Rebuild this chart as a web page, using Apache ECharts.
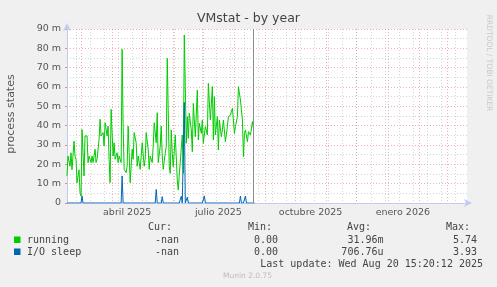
<!DOCTYPE html>
<html><head><meta charset="utf-8">
<script src="https://cdn.jsdelivr.net/npm/echarts@6/dist/echarts.min.js"></script>
<style>html,body{margin:0;padding:0;background:#f0f0f0}#c{width:497px;height:287px}</style>
</head><body><div id="c"></div>
<script>
const chartTitle = 'VMstat - by year';
const yAxisName = 'process states';
const startYear = 2025, startMonth = 1, startDayOfMonth = 15; // 15 Feb 2025
const dayCount = 400;
const yMax = 90, yStep = 10;
const monthNames = ['enero','febrero','marzo','abril','mayo','junio','julio','agosto','septiembre','octubre','noviembre','diciembre'];
const labelMonths = [0, 3, 6, 9];
const minorGridFirstDay = 9, minorGridStep = 14;

// running (values in milli-units), day offsets from start
const runningDay = [0,1,3,4,5,7,8,9,10,12,13,14,15,16,17,18,20,21,22,24,25,26,28,29,30,32,33,34,36,37,38,40,41,42,43,44,46,47,48,50,51,52,54,55,56,57,59,60,61,62,63,65,66,67,69,70,71,73,74,75,77,78,79,81,82,83,85,86,87,89,90,91,93,94,95,96,98,99,100,102,103,104,105,106,108,110,111,112,113,115,116,117,118,119,120,121,122,124,125,126,128,130,131,132,134,135,136,138,140,141,143,145,146,147,148,150,151,152,154,155,156,158,160,161,163,165,166,167,168,170,171,173,175,176,177,178,180,181,183,185,186,187];
const runningVal = [14,24.3,19,26,17.2,32,24.3,22.6,10.5,17.2,5.3,3.6,38,25.9,14,34.7,34.7,20.9,24.3,20.9,24.3,20.9,27.8,20.9,22.6,33,43.3,34.7,36.4,29.5,41.5,34.7,39.8,22.6,10.5,48.4,24.3,31.2,22.6,26,20.9,24.3,20.9,79.5,39.8,17.4,15.7,19,39.8,26,10.5,27.8,22.6,36.4,31.2,19,24.3,17.4,24.3,31.2,19,22.6,36.4,27.8,17.4,24.3,20.9,29.5,41.5,31.2,46.7,20.9,29.5,39.8,24.3,17.4,25.7,29.1,74.8,18.8,15.3,37.8,25.7,18.8,35.2,11.9,6.7,14.5,15.3,35.2,15.3,86.9,60.2,30.9,44.7,33.4,46.4,37.8,26.5,51.5,34.3,58.4,32.6,41.2,36,42.9,30.9,39.5,35.2,61.9,42.9,60.2,32.6,55,35.2,44.7,27.4,42.9,34.3,37.8,42.9,31.7,39.5,44.7,45.5,49,42.9,36,39.5,44.7,60.2,53.3,42.9,24,36,37.8,31.7,36.9,35.2,42.1,38.6];

// I/O sleep: zero except these spikes
const ioSpikeDay = [15,55,89,95,114,117,120,137,173,178];
const ioSpikeVal = [3.7,14,7,3.3,3.5,52,3,3.7,3.6,3.6];
const dataEndDay = 187;
const nowDay = 186;

const seriesNames = ['running','I/O sleep'];
const seriesColors = ['#00cc00','#0066b3'];
const curVals = ['-nan','-nan'];
const minVals = ['0.00','0.00'];
const avgVals = ['31.96m','706.76u'];
const maxVals = ['5.74','3.93'];
const colHeads = ['Cur:','Min:','Avg:','Max:'];
const lastUpdate = 'Last update: Wed Aug 20 15:20:12 2025';
const footer = 'Munin 2.0.75';
const sideText = 'RRDTOOL / TOBI OETIKER';

const cats = [];
const t0 = Date.UTC(startYear, startMonth, startDayOfMonth);
for (let i = 0; i < dayCount; i++) cats.push(new Date(t0 + i * 86400000).toISOString().slice(0, 10));
const isMonthStart = i => cats[i].slice(8) === '01';
const isMinor = i => i >= minorGridFirstDay && (i - minorGridFirstDay) % minorGridStep === 0;
const isLabel = i => cats[i].slice(8) === '16' && labelMonths.includes(+cats[i].slice(5, 7) - 1);

const runningData = runningDay.map((d, i) => [d, runningVal[i]]);
const ioData = [];
for (let d = 0; d <= dataEndDay; d++) {
  const k = ioSpikeDay.indexOf(d);
  ioData.push([d, k >= 0 ? ioSpikeVal[k] : 0]);
}

const mono = 'DejaVu Sans Mono';
const graphics = [
  {type:'text', x:248.5, y:19, style:{text:chartTitle, font:'12.5px "DejaVu Sans"', fill:'#444', align:'center', verticalAlign:'middle'}},
  {type:'text', x:11, y:114, rotation:Math.PI/2, style:{text:yAxisName, font:'11px "DejaVu Sans"', fill:'#555', align:'center', verticalAlign:'middle'}},
  {type:'text', x:489, y:63, rotation:-Math.PI/2, style:{text:sideText, font:'7.5px "DejaVu Sans"', fill:'#c8c8c8', align:'center', verticalAlign:'middle'}},
  {type:'text', x:247.5, y:276, style:{text:footer, font:'7.5px "DejaVu Sans"', fill:'#bbb', align:'center', verticalAlign:'middle'}},
  {type:'text', x:483, y:264, style:{text:lastUpdate, font:'10px "'+mono+'"', fill:'#444', align:'right', verticalAlign:'middle'}}
];
const colRight = [172, 272, 371, 470];
const valRight = [179, 278, 383.5, 477];
colHeads.forEach((h, i) => graphics.push({type:'text', x:colRight[i], y:227.5, style:{text:h, font:'10px "'+mono+'"', fill:'#444', align:'right', verticalAlign:'middle'}}));
seriesNames.forEach((n, r) => {
  const y = 240 + r * 12;
  graphics.push({type:'rect', shape:{x:14, y:y-3.5, width:6.5, height:6.5}, style:{fill:seriesColors[r]}});
  graphics.push({type:'text', x:27, y:y, style:{text:n, font:'10px "'+mono+'"', fill:'#444', align:'left', verticalAlign:'middle'}});
  [curVals[r], minVals[r], avgVals[r], maxVals[r]].forEach((v, i) =>
    graphics.push({type:'text', x:valRight[i], y:y, style:{text:v, font:'10px "'+mono+'"', fill:'#444', align:'right', verticalAlign:'middle'}}));
});

const axisCol = '#c4caf0';
const chart = echarts.init(document.getElementById('c'), null, {renderer:'canvas'});
chart.setOption({
  animation:false,
  backgroundColor:'#f0f0f0',
  grid:{left:67, right:30, top:29, bottom:84, show:true, backgroundColor:'#ffffff', borderWidth:0},
  xAxis:[{
    type:'category', data:cats, boundaryGap:false,
    axisLine:{show:true, lineStyle:{color:axisCol, width:1}, symbol:['none','arrow'], symbolSize:[6,8], symbolOffset:[0,5]},
    axisTick:{show:false},
    axisLabel:{interval:(i)=>isLabel(i), formatter:(v)=>monthNames[+v.slice(5,7)-1]+' '+v.slice(0,4), color:'#555', fontSize:9.5, fontFamily:'DejaVu Sans', margin:5},
    splitLine:{show:true, interval:(i)=>isMonthStart(i), lineStyle:{color:'rgba(230,100,100,0.5)', type:[1,2], width:1}}
  },{
    type:'category', data:cats, boundaryGap:false, position:'bottom',
    axisLine:{show:false}, axisTick:{show:false}, axisLabel:{show:false},
    splitLine:{show:true, interval:(i)=>isMinor(i), lineStyle:{color:'rgba(150,150,150,0.4)', type:[1,2], width:1}}
  }],
  yAxis:{
    type:'value', min:0, max:yMax, interval:yStep,
    axisLine:{show:true, lineStyle:{color:axisCol, width:1}, symbol:['none','arrow'], symbolSize:[6,8], symbolOffset:[0,6]},
    axisTick:{show:true, length:2, lineStyle:{color:'rgba(230,90,90,0.7)'}},
    axisLabel:{formatter:(v)=>v===0?'0':v+' m', color:'#555', fontSize:9.5, fontFamily:'DejaVu Sans', margin:6},
    splitLine:{show:true, lineStyle:{color:'rgba(230,100,100,0.5)', type:[1,2], width:1}},
    minorTick:{show:false, splitNumber:2},
    minorSplitLine:{show:true, lineStyle:{color:'rgba(150,150,150,0.4)', type:[1,2], width:1}}
  },
  graphic:graphics,
  series:[{
    name:seriesNames[0], type:'line', data:runningData, showSymbol:false, symbol:'none',
    lineStyle:{color:seriesColors[0], width:1}, itemStyle:{color:seriesColors[0]}, z:3,
    markLine:{silent:true, symbol:'none', label:{show:false}, lineStyle:{color:'#8a8a8a', type:'solid', width:1}, data:[{xAxis:nowDay}]}
  },{
    name:seriesNames[1], type:'line', data:ioData, showSymbol:false, symbol:'none',
    lineStyle:{color:seriesColors[1], width:1}, itemStyle:{color:seriesColors[1]}, z:4
  }]
});
</script></body></html>
